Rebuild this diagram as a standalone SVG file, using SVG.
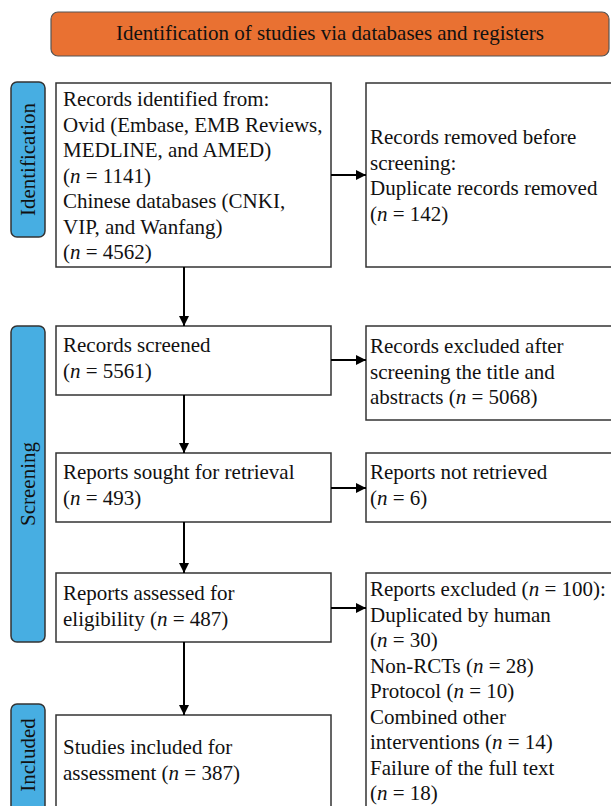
<svg xmlns="http://www.w3.org/2000/svg" width="611" height="806" viewBox="0 0 611 806">
<style>
text{font-family:"Liberation Serif","Times New Roman",serif;font-size:21px;fill:#111}
.box{fill:#fff;stroke:#333;stroke-width:1.5}
.tab{fill:#47AEE2;stroke:#333;stroke-width:1.5}
.ban{fill:#E97132;stroke:#555;stroke-width:1.2}
.i{font-style:italic}
.c{stroke:#000;stroke-width:2;fill:none;marker-end:url(#ah)}
</style>
<defs>
<marker id="ah" viewBox="0 0 10 10" refX="10" refY="5" markerWidth="5" markerHeight="5" markerUnits="strokeWidth" orient="auto">
<path d="M0,0 L10,5 L0,10 z" fill="#000"/>
</marker>
</defs>
<g id="banner">
<rect class="ban" x="51" y="12" width="558" height="44" rx="7"/>
<text x="330" y="40" text-anchor="middle">Identification of studies via databases and registers</text>
</g>
<g id="tab-identification">
<rect class="tab" x="11" y="82" width="34" height="155" rx="6"/>
<text transform="translate(35,159.5) rotate(-90)" text-anchor="middle">Identification</text>
</g>
<g id="tab-screening">
<rect class="tab" x="11" y="326" width="34" height="316" rx="6"/>
<text transform="translate(35,484) rotate(-90)" text-anchor="middle">Screening</text>
</g>
<g id="tab-included">
<rect class="tab" x="11" y="704" width="34" height="130" rx="6"/>
<text transform="translate(35,755) rotate(-90)" text-anchor="middle">Included</text>
</g>
<g id="records-identified">
<rect class="box" x="56" y="83" width="275" height="184"/>
<text x="63" y="106">Records identified from:</text>
<text x="63" y="131.5">Ovid (Embase, EMB Reviews,</text>
<text x="63" y="157">MEDLINE, and AMED)</text>
<text x="63" y="182.5">(<tspan class="i">n</tspan> = 1141)</text>
<text x="63" y="208">Chinese databases (CNKI,</text>
<text x="63" y="233.5">VIP, and Wanfang)</text>
<text x="63" y="259">(<tspan class="i">n</tspan> = 4562)</text>
</g>
<g id="records-removed">
<rect class="box" x="366" y="83" width="250" height="184"/>
<text x="370" y="144">Records removed before</text>
<text x="370" y="169.5">screening:</text>
<text x="370" y="195">Duplicate records removed</text>
<text x="370" y="220.5">(<tspan class="i">n</tspan> = 142)</text>
</g>
<g id="records-screened">
<rect class="box" x="56" y="326" width="275" height="69"/>
<text x="63" y="352">Records screened</text>
<text x="63" y="377.5">(<tspan class="i">n</tspan> = 5561)</text>
</g>
<g id="records-excluded">
<rect class="box" x="366" y="326" width="250" height="94"/>
<text x="370" y="353">Records excluded after</text>
<text x="370" y="378.5">screening the title and</text>
<text x="370" y="404">abstracts (<tspan class="i">n</tspan> = 5068)</text>
</g>
<g id="reports-sought">
<rect class="box" x="56" y="453" width="275" height="69"/>
<text x="63" y="479">Reports sought for retrieval</text>
<text x="63" y="504.5">(<tspan class="i">n</tspan> = 493)</text>
</g>
<g id="reports-not-retrieved">
<rect class="box" x="366" y="453" width="250" height="69"/>
<text x="370" y="479">Reports not retrieved</text>
<text x="370" y="504.5">(<tspan class="i">n</tspan> = 6)</text>
</g>
<g id="reports-assessed">
<rect class="box" x="56" y="573" width="275" height="69"/>
<text x="63" y="600">Reports assessed for</text>
<text x="63" y="625.5">eligibility (<tspan class="i">n</tspan> = 487)</text>
</g>
<g id="reports-excluded">
<rect class="box" x="366" y="573" width="250" height="260"/>
<text x="370" y="596">Reports excluded (<tspan class="i">n</tspan> = 100):</text>
<text x="370" y="621.5">Duplicated by human</text>
<text x="370" y="647">(<tspan class="i">n</tspan> = 30)</text>
<text x="370" y="672.5">Non-RCTs (<tspan class="i">n</tspan> = 28)</text>
<text x="370" y="698">Protocol (<tspan class="i">n</tspan> = 10)</text>
<text x="370" y="723.5">Combined other</text>
<text x="370" y="749">interventions (<tspan class="i">n</tspan> = 14)</text>
<text x="370" y="774.5">Failure of the full text</text>
<text x="370" y="800">(<tspan class="i">n</tspan> = 18)</text>
</g>
<g id="studies-included">
<rect class="box" x="56" y="715" width="275" height="120"/>
<text x="63" y="754">Studies included for</text>
<text x="63" y="779.5">assessment (<tspan class="i">n</tspan> = 387)</text>
</g>
<g id="connectors">
<path class="c" d="M184,267 V326"/>
<path class="c" d="M184,395 V453"/>
<path class="c" d="M184,522 V573"/>
<path class="c" d="M184,642 V715"/>
<path class="c" d="M331,175 H366"/>
<path class="c" d="M331,360 H366"/>
<path class="c" d="M331,488 H366"/>
<path class="c" d="M331,608 H366"/>
</g>
</svg>
